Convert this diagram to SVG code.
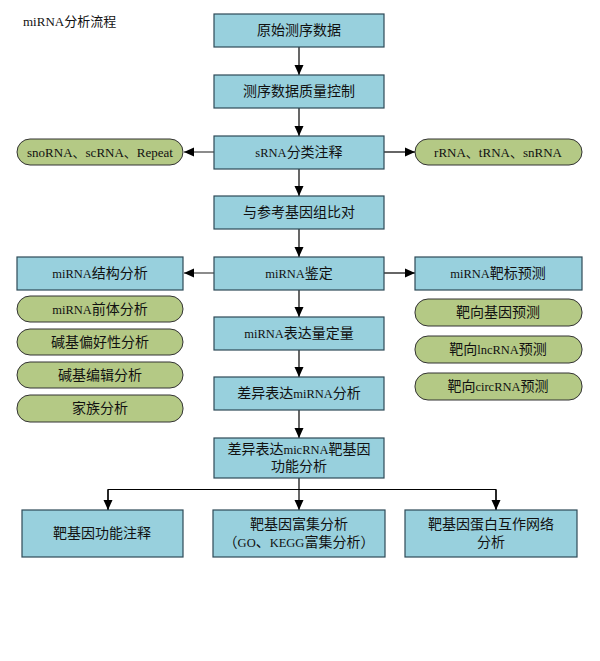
<svg xmlns="http://www.w3.org/2000/svg" width="600" height="661" viewBox="0 0 600 661">
<defs>
<style>
.b{fill:#98D0DD;stroke:#2E4A57;stroke-width:1.2}
.g{fill:#B4C985;stroke:#333;stroke-width:1}
text{font-family:"Liberation Serif","Noto Sans CJK SC",serif;font-size:14px;fill:#111;text-anchor:middle}
.l{font-size:12.5px}
.c{stroke:#000;stroke-width:1.2;fill:none}
.cg{stroke:#666;stroke-width:1.5;fill:none}
</style>
<marker id="a" viewBox="0 0 10 10" refX="10" refY="5" markerWidth="10" markerHeight="10" markerUnits="userSpaceOnUse" orient="auto"><path d="M0,0.5L10,5L0,9.5z" fill="#000"/></marker>
</defs>
<rect width="600" height="661" fill="#fff"/>
<text x="23" y="26" style="text-anchor:start;font-size:13px">miRNA分析流程</text>
<g id="connectors">
<line class="c" x1="299" y1="47" x2="299" y2="75" marker-end="url(#a)"/>
<line class="c" x1="299" y1="108" x2="299" y2="136" marker-end="url(#a)"/>
<line class="c" x1="299" y1="169" x2="299" y2="196" marker-end="url(#a)"/>
<line class="c" x1="299" y1="229" x2="299" y2="257" marker-end="url(#a)"/>
<line class="c" x1="299" y1="290" x2="299" y2="317" marker-end="url(#a)"/>
<line class="c" x1="299" y1="350" x2="299" y2="377" marker-end="url(#a)"/>
<line class="c" x1="299" y1="410" x2="299" y2="438" marker-end="url(#a)"/>
<line class="cg" x1="214" y1="152" x2="184" y2="152" marker-end="url(#a)"/>
<line class="c" x1="384" y1="152" x2="415" y2="152" marker-end="url(#a)"/>
<line class="cg" x1="214" y1="273" x2="184" y2="273" marker-end="url(#a)"/>
<line class="c" x1="384" y1="273" x2="415" y2="273" marker-end="url(#a)"/>
<line class="c" x1="299" y1="478" x2="299" y2="510" marker-end="url(#a)"/>
<polyline class="c" points="108,510 108,489.5 496,489.5 496,510"/>
<line class="c" x1="108" y1="490" x2="108" y2="510" marker-end="url(#a)"/>
<line class="c" x1="496" y1="490" x2="496" y2="510" marker-end="url(#a)"/>
</g>
<g id="n1"><rect class="b" x="214" y="14" width="170" height="33"/><text x="299" y="35">原始测序数据</text></g>
<g id="n2"><rect class="b" x="214" y="75" width="170" height="33"/><text x="299" y="96">测序数据质量控制</text></g>
<g id="n3"><rect class="b" x="214" y="136" width="170" height="33"/><text x="299" y="157"><tspan class="l">sRNA</tspan>分类注释</text></g>
<g id="n4"><rect class="b" x="214" y="196" width="170" height="33"/><text x="299" y="217">与参考基因组比对</text></g>
<g id="n5"><rect class="b" x="214" y="257" width="170" height="33"/><text x="299" y="278"><tspan class="l">miRNA</tspan>鉴定</text></g>
<g id="n6"><rect class="b" x="214" y="317" width="170" height="33"/><text x="299" y="338"><tspan class="l">miRNA</tspan>表达量定量</text></g>
<g id="n7"><rect class="b" x="214" y="377" width="170" height="33"/><text x="299" y="398">差异表达<tspan class="l">miRNA</tspan>分析</text></g>
<g id="n8"><rect class="b" x="214" y="438" width="170" height="40"/><text x="299" y="454">差异表达<tspan class="l">micRNA</tspan>靶基因</text><text x="299" y="471">功能分析</text></g>
<g id="s1"><rect class="g" x="17" y="139" width="166" height="26" rx="13"/><text x="100" y="157" style="font-size:13px">snoRNA、scRNA、Repeat</text></g>
<g id="s2"><rect class="g" x="415" y="139" width="167" height="26" rx="13"/><text x="498" y="157" style="font-size:13px">rRNA、tRNA、snRNA</text></g>
<g id="l1"><rect class="b" x="17" y="257" width="166" height="33"/><text x="100" y="278"><tspan class="l">miRNA</tspan>结构分析</text></g>
<g id="l2"><rect class="g" x="17" y="296" width="166" height="26" rx="13"/><text x="100" y="314"><tspan class="l">miRNA</tspan>前体分析</text></g>
<g id="l3"><rect class="g" x="17" y="329" width="166" height="26" rx="13"/><text x="100" y="347">碱基偏好性分析</text></g>
<g id="l4"><rect class="g" x="17" y="362" width="166" height="26" rx="13"/><text x="100" y="380">碱基编辑分析</text></g>
<g id="l5"><rect class="g" x="17" y="395" width="166" height="27" rx="13"/><text x="100" y="413">家族分析</text></g>
<g id="r1"><rect class="b" x="415" y="257" width="167" height="33"/><text x="498" y="278"><tspan class="l">miRNA</tspan>靶标预测</text></g>
<g id="r2"><rect class="g" x="415" y="299" width="167" height="27" rx="13"/><text x="498" y="317">靶向基因预测</text></g>
<g id="r3"><rect class="g" x="415" y="336" width="167" height="27" rx="13"/><text x="498" y="354">靶向<tspan class="l">lncRNA</tspan>预测</text></g>
<g id="r4"><rect class="g" x="415" y="373" width="167" height="27" rx="13"/><text x="498" y="391">靶向<tspan class="l">circRNA</tspan>预测</text></g>
<g id="b1"><rect class="b" x="22" y="510" width="161" height="47"/><text x="102" y="538">靶基因功能注释</text></g>
<g id="b2"><rect class="b" x="213" y="510" width="172" height="47"/><text x="299" y="529">靶基因富集分析</text><text x="299" y="547">（<tspan class="l">GO</tspan>、<tspan class="l">KEGG</tspan>富集分析）</text></g>
<g id="b3"><rect class="b" x="405" y="510" width="172" height="47"/><text x="491" y="529">靶基因蛋白互作网络</text><text x="491" y="547">分析</text></g>
</svg>
